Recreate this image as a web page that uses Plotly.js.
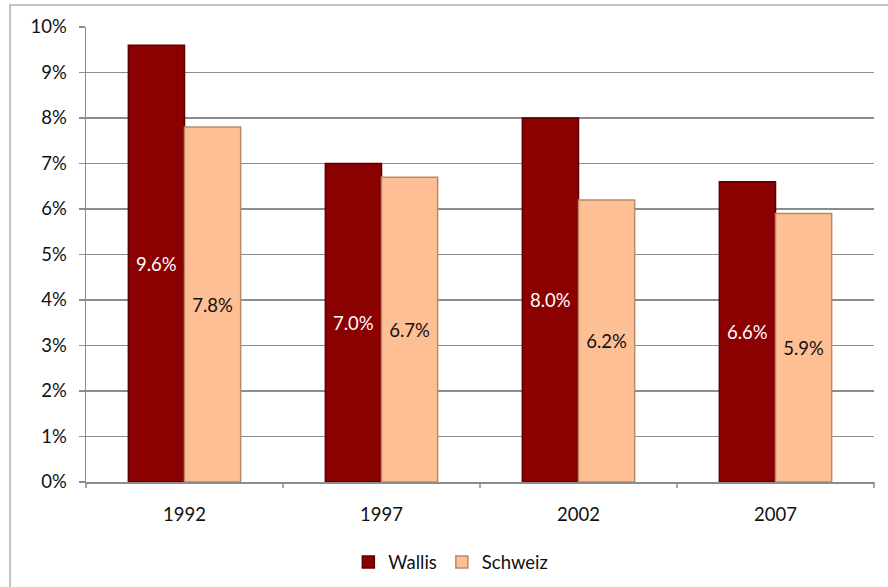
<!DOCTYPE html>
<html><head><meta charset="utf-8">
<script src="https://cdn.plot.ly/plotly-3.0.1.min.js"></script>
<style>html,body{margin:0;padding:0;background:#fff}</style>
</head><body>
<div id="chart" style="width:888px;height:587px"></div>
<script>
const years = ["1992", "1997", "2002", "2007"];
const wallis = [9.6, 7.0, 8.0, 6.6];
const schweiz = [7.8, 6.7, 6.2, 5.9];
const seriesNames = ["Wallis", "Schweiz"];

const fontFam = "Lato, 'Open Sans', sans-serif";
const fs = 18.5;
const traces = [
  {type: "bar", name: seriesNames[0], x: years, y: wallis,
   marker: {color: "#8B0000", line: {color: "#5a0000", width: 1.5}},
   texttemplate: "%{y:.1f}%", textposition: "inside", insidetextanchor: "middle",
   textfont: {color: "#ffffff", size: fs, family: fontFam}, hoverinfo: "none"},
  {type: "bar", name: seriesNames[1], x: years, y: schweiz,
   marker: {color: "#FFBF94", line: {color: "#b88a6a", width: 1.5}},
   texttemplate: "%{y:.1f}%", textposition: "inside", insidetextanchor: "middle",
   textfont: {color: "#111111", size: fs, family: fontFam}, hoverinfo: "none"}
];
const layout = {
  width: 888, height: 587,
  margin: {l: 86, r: 14, t: 27, b: 105, autoexpand: false},
  paper_bgcolor: "#fff", plot_bgcolor: "#fff",
  font: {family: fontFam, size: fs, color: "#111"},
  barmode: "group", bargap: 0.43, bargroupgap: 0,
  showlegend: true,
  legend: {orientation: "h", x: 0.463, xanchor: "center", y: -0.135, yanchor: "top",
           font: {size: fs, family: fontFam}, itemwidth: 30, tracegroupgap: 0},
  xaxis: {type: "category", showgrid: false, showline: true, linecolor: "#8c8c8c", linewidth: 1.5,
          ticks: "", tickfont: {size: fs}, zeroline: false, ticklabelstandoff: 15},
  yaxis: {range: [0, 10], dtick: 1, ticksuffix: "%", showgrid: true, gridcolor: "#8c8c8c", gridwidth: 1.5,
          showline: true, linecolor: "#8c8c8c", linewidth: 1.5, ticks: "outside", ticklen: 6,
          tickcolor: "#8c8c8c", tickwidth: 1.5, zeroline: false, tickfont: {size: fs},
          ticklabelstandoff: 8},
  shapes: [
    {type: "rect", xref: "paper", yref: "paper", x0: -0.0964, x1: 1.2, y0: -0.4, y1: 1.0484,
     line: {color: "#b0b0b0", width: 1.5}, fillcolor: "rgba(0,0,0,0)", layer: "below"}
  ]
};
const bounds = [0, 1, 2, 3, 4];
bounds.forEach(b => layout.shapes.push({type: "line", xref: "paper", yref: "paper",
  x0: b / 4, x1: b / 4, y0: 0, y1: -0.013, line: {color: "#8c8c8c", width: 1.5}}));
Plotly.newPlot("chart", traces, layout, {displayModeBar: false, staticPlot: true});
</script>
</body></html>
